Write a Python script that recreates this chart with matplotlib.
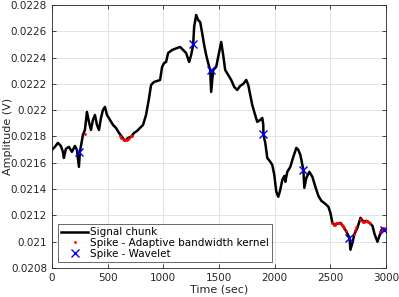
import numpy as np
import matplotlib
matplotlib.use("Agg")
import matplotlib.pyplot as plt

# signal chunk
t = [0, 27, 54, 81, 99, 108, 126, 153, 180, 207, 225, 243, 252, 279, 297, 315, 333, 351,
     369, 387, 405, 423, 441, 459, 477, 495, 522, 549, 576, 603, 630, 657, 684, 711, 738,
     765, 792, 819, 846, 873, 891, 918, 945, 972, 990, 1008, 1026, 1044, 1080, 1125, 1152,
     1179, 1206, 1233, 1251, 1269, 1278, 1296, 1314, 1332, 1350, 1368, 1386, 1404, 1422,
     1431, 1449, 1476, 1494, 1521, 1539, 1557, 1584, 1611, 1638, 1665, 1692, 1719, 1746,
     1764, 1782, 1800, 1818, 1845, 1872, 1890, 1899, 1901, 1917, 1935, 1962, 1980, 1998,
     2016, 2034, 2052, 2070, 2088, 2097, 2115, 2142, 2169, 2196, 2214, 2232, 2259, 2268,
     2286, 2313, 2340, 2367, 2394, 2421, 2457, 2484, 2502, 2520, 2538, 2565, 2592, 2619,
     2646, 2673, 2682, 2700, 2718, 2745, 2772, 2799, 2826, 2853, 2880, 2898, 2925, 2943,
     2961, 2979, 3000]
amp = [0.021698, 0.021721, 0.021751, 0.021728, 0.021683, 0.021637, 0.021706, 0.021721,
       0.021683, 0.021728, 0.021698, 0.021569, 0.021683, 0.021812, 0.021850, 0.021987,
       0.021911, 0.021850, 0.021926, 0.021964, 0.021888, 0.021850, 0.021941, 0.022002,
       0.022025, 0.021964, 0.021926, 0.021888, 0.021865, 0.021827, 0.021797, 0.021766,
       0.021789, 0.021797, 0.021827, 0.021842, 0.021865, 0.021888, 0.021964, 0.022093,
       0.022192, 0.022215, 0.022222, 0.022230, 0.022329, 0.022359, 0.022367, 0.022435,
       0.022458, 0.022473, 0.022481, 0.022458, 0.022435, 0.022367, 0.022420, 0.022496,
       0.022633, 0.022724, 0.022686, 0.022671, 0.022587, 0.022496, 0.022420, 0.022359,
       0.022306, 0.022139, 0.022306, 0.022329, 0.022405, 0.022519, 0.022420, 0.022306,
       0.022268, 0.022230, 0.022177, 0.022154, 0.022185, 0.022200, 0.022230, 0.022192,
       0.022116, 0.022040, 0.021987, 0.021911, 0.021926, 0.021941, 0.021890, 0.021812,
       0.021751, 0.021637, 0.021607, 0.021584, 0.021508, 0.021379, 0.021341, 0.021394,
       0.021470, 0.021500, 0.021455, 0.021531, 0.021569, 0.021645, 0.021713, 0.021698,
       0.021660, 0.021546, 0.021409, 0.021485, 0.021531, 0.021493, 0.021417, 0.021348,
       0.021310, 0.021287, 0.021265, 0.021219, 0.021143, 0.021128, 0.021136, 0.021143,
       0.021113, 0.021075, 0.021030, 0.020938, 0.020991, 0.021059, 0.021105, 0.021181,
       0.021151, 0.021158, 0.021143, 0.021120, 0.021059, 0.020999, 0.021044, 0.021090,
       0.021098, 0.021090]

# spikes - adaptive bandwidth kernel
kde_t = [297, 612, 624, 636, 648, 660, 672, 684, 696, 708, 720,
         2520, 2532, 2544, 2556, 2568, 2580, 2592, 2604, 2616, 2628, 2640,
         2712, 2724, 2736, 2772, 2784, 2796, 2808, 2820, 2832, 2844, 2856,
         2950, 2962, 2974, 2986]
kde_amp = [0.02182, 0.02180, 0.02179, 0.02178, 0.02177, 0.02177, 0.02177, 0.02178,
           0.02179, 0.02180, 0.02180,
           0.02114, 0.02113, 0.02113, 0.02114, 0.02114, 0.02114, 0.02114, 0.02113,
           0.02112, 0.02110, 0.02108,
           0.02106, 0.02109, 0.02111, 0.02117, 0.02116, 0.02115, 0.02115, 0.02116,
           0.02116, 0.02115, 0.02114,
           0.02107, 0.02109, 0.02110, 0.02110]

# spikes - wavelet
wav_t = [243, 1270, 1425, 1900, 2258, 2670, 2988]
wav_amp = [0.021685, 0.022500, 0.022302, 0.021818, 0.021545, 0.021030, 0.021088]

plt.rcParams['font.family'] = ['DejaVu Sans']
fig = plt.figure(figsize=(3.99, 2.97), dpi=100)
ax = fig.add_axes([0.130, 0.098, 0.837, 0.885])

ax.plot(t, amp, color='black', lw=1.8, label='Signal chunk', zorder=2)
ax.plot(kde_t, kde_amp, ls='none', marker='o', ms=2, color='red', mec='none',
        label='Spike - Adaptive bandwidth kernel', zorder=3)
ax.plot(wav_t, wav_amp, ls='none', marker='x', ms=6, mew=1.0, color='blue',
        label='Spike - Wavelet', zorder=4)

ax.set_xlim(0, 3000)
ax.set_ylim(0.0208, 0.0228)
ax.set_xticks([0, 500, 1000, 1500, 2000, 2500, 3000])
ax.set_yticks([0.0208, 0.021, 0.0212, 0.0214, 0.0216, 0.0218, 0.022, 0.0222, 0.0224, 0.0226, 0.0228])
ax.set_yticklabels(['0.0208', '0.021', '0.0212', '0.0214', '0.0216', '0.0218', '0.022',
                    '0.0222', '0.0224', '0.0226', '0.0228'])
ax.grid(True, color='#e3e3e3', lw=0.7)
ax.set_axisbelow(True)
ax.tick_params(direction='in', length=3, labelsize=7.5, colors='#262626',
               top=True, right=True, width=0.6)
for s in ax.spines.values():
    s.set_color('#262626')
    s.set_linewidth(0.6)
ax.set_xlabel('Time (sec)', fontsize=8, color='#262626', labelpad=1)
ax.set_ylabel('Amplitude (V)', fontsize=8, color='#262626')
ax.yaxis.set_label_coords(-0.117, 0.5)

leg = ax.legend(loc='lower left', fontsize=7.5, frameon=True, fancybox=False,
                edgecolor='#262626', borderpad=0.3, labelspacing=0.05,
                handlelength=2.6, handletextpad=0.2, borderaxespad=0.6)
leg.get_frame().set_linewidth(0.6)

fig.savefig('out.png', dpi=100)
